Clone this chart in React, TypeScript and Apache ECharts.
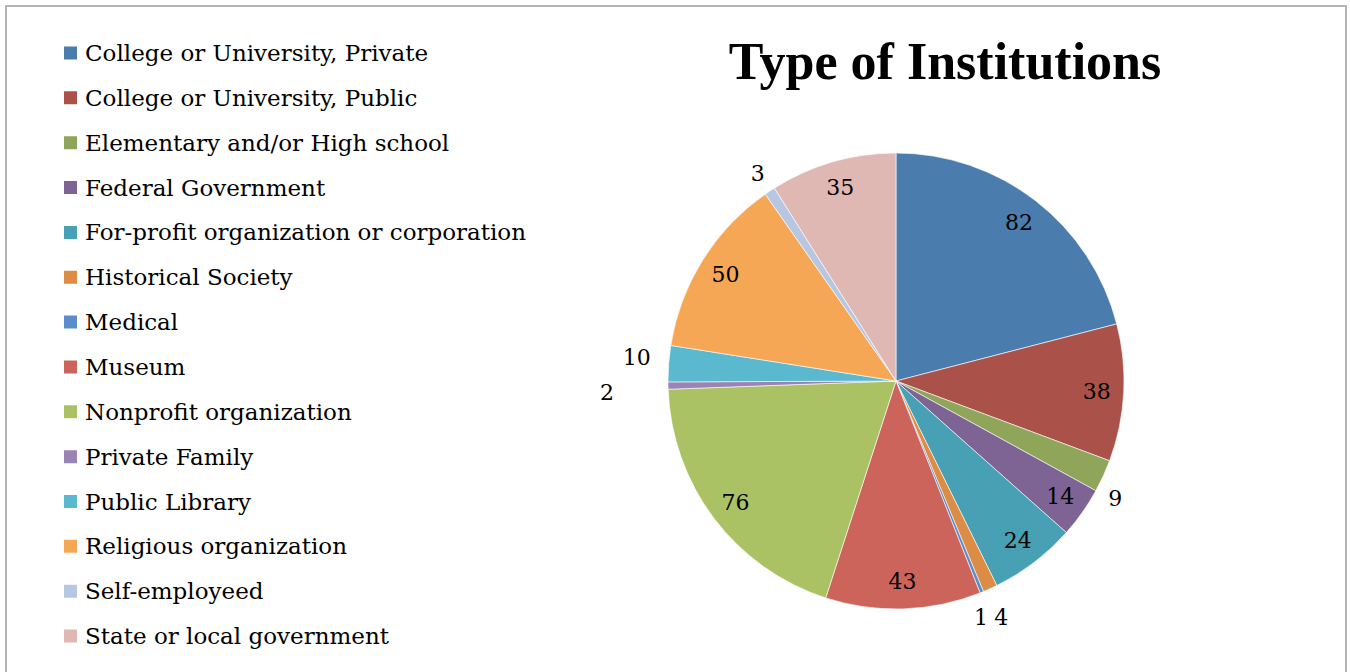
import React, { useEffect, useRef } from "react";
import * as echarts from "echarts";

const categories = [
  "College or University, Private",
  "College or University, Public",
  "Elementary and/or High school",
  "Federal Government",
  "For-profit organization or corporation",
  "Historical Society",
  "Medical",
  "Museum",
  "Nonprofit organization",
  "Private Family",
  "Public Library",
  "Religious organization",
  "Self-employeed",
  "State or local government",
];

const values = [82, 38, 9, 14, 24, 4, 1, 43, 76, 2, 10, 50, 3, 35];

const colors = [
  "#4A7DAD",
  "#AA5249",
  "#8FA55A",
  "#7D6494",
  "#47A0B3",
  "#DD8C45",
  "#5A8DCA",
  "#CC645B",
  "#ABC264",
  "#9A83B5",
  "#5AB8CF",
  "#F6A756",
  "#B8C7E1",
  "#DFB8B4",
];

// labels drawn outside the pie (small slices)
const outsideLabels = [2, 5, 6, 9, 10, 12];
// radial extra distance for outside labels
const outsideLen: Record<number, number> = { 2: 12, 5: 22, 6: 22, 9: 50, 10: 12, 12: 18 };
// fine nudges of outside labels (px)
const outsideNudge: Record<number, [number, number]> = {
  2: [-11, 17],
  5: [-10, 9],
  6: [-21, 5],
  9: [1, 6],
  10: [-1, -5],
  12: [10, -3],
};

const FONT = "'DejaVu Serif', serif";
const TITLE_FONT = "'Liberation Serif', 'Times New Roman', serif";

export default function App() {
  const ref = useRef<HTMLDivElement>(null);
  useEffect(() => {
    if (!ref.current) return;
    const chart = echarts.init(ref.current, undefined, { renderer: "svg" });
    const mainData = categories.map((name, i) => {
      const out = outsideLabels.includes(i);
      return {
        name,
        value: values[i],
        itemStyle: { color: colors[i] },
        label: { show: out },
        labelLine: { show: false, length: outsideLen[i] ?? 10, length2: 0 },
      };
    });
    const ringData = categories.map((name, i) => ({
      name,
      value: values[i],
      label: { show: !outsideLabels.includes(i) },
    }));
    chart.setOption({
      animation: false,
      backgroundColor: "#ffffff",
      title: {
        text: "Type of Institutions",
        left: 940,
        top: 30,
        textAlign: "center",
        textStyle: { fontFamily: TITLE_FONT, fontWeight: "bold", fontSize: 52, color: "#000" },
      },
      legend: {
        orient: "vertical",
        left: 57,
        top: 36,
        icon: "rect",
        itemWidth: 15,
        itemHeight: 15,
        itemGap: 20.85,
        selectedMode: false,
        data: categories,
        textStyle: { fontFamily: FONT, fontSize: 23, lineHeight: 24, color: "#000", padding: [0, 0, 0, 2] },
      },
      graphic: [
        {
          type: "rect",
          shape: { x: 6, y: 6, width: 1340, height: 720 },
          style: { fill: "none", stroke: "#b4b4b4", lineWidth: 2 },
          silent: true,
        },
      ],
      series: [
        {
          type: "pie",
          center: [896, 381],
          radius: [0, 228],
          startAngle: 90,
          clockwise: true,
          avoidLabelOverlap: false,
          data: mainData,
          itemStyle: { borderColor: "#ffffff", borderWidth: 0.6 },
          label: {
            position: "outside",
            formatter: "{c}",
            fontFamily: FONT,
            fontSize: 22,
            color: "#000",
            distanceToLabelLine: 5,
          },
          labelLayout: (p: any) => {
            const n = outsideNudge[p.dataIndex];
            return n ? { dx: n[0], dy: n[1], hideOverlap: false } : { hideOverlap: false };
          },
          emphasis: { disabled: true },
        },
        {
          type: "pie",
          center: [896, 381],
          radius: [168, 228],
          startAngle: 90,
          clockwise: true,
          silent: true,
          avoidLabelOverlap: false,
          data: ringData,
          itemStyle: { color: "rgba(0,0,0,0)", borderWidth: 0 },
          label: {
            position: "inside",
            formatter: "{c}",
            fontFamily: FONT,
            fontSize: 22,
            color: "#000",
            padding: [6, 0, 0, 0],
          },
          labelLine: { show: false },
          emphasis: { disabled: true },
        },
      ],
    });
    return () => chart.dispose();
  }, []);
  return (
    <div
      ref={ref}
      style={{ position: "absolute", left: 0, top: 0, width: 1350, height: 672 }}
    />
  );
}
